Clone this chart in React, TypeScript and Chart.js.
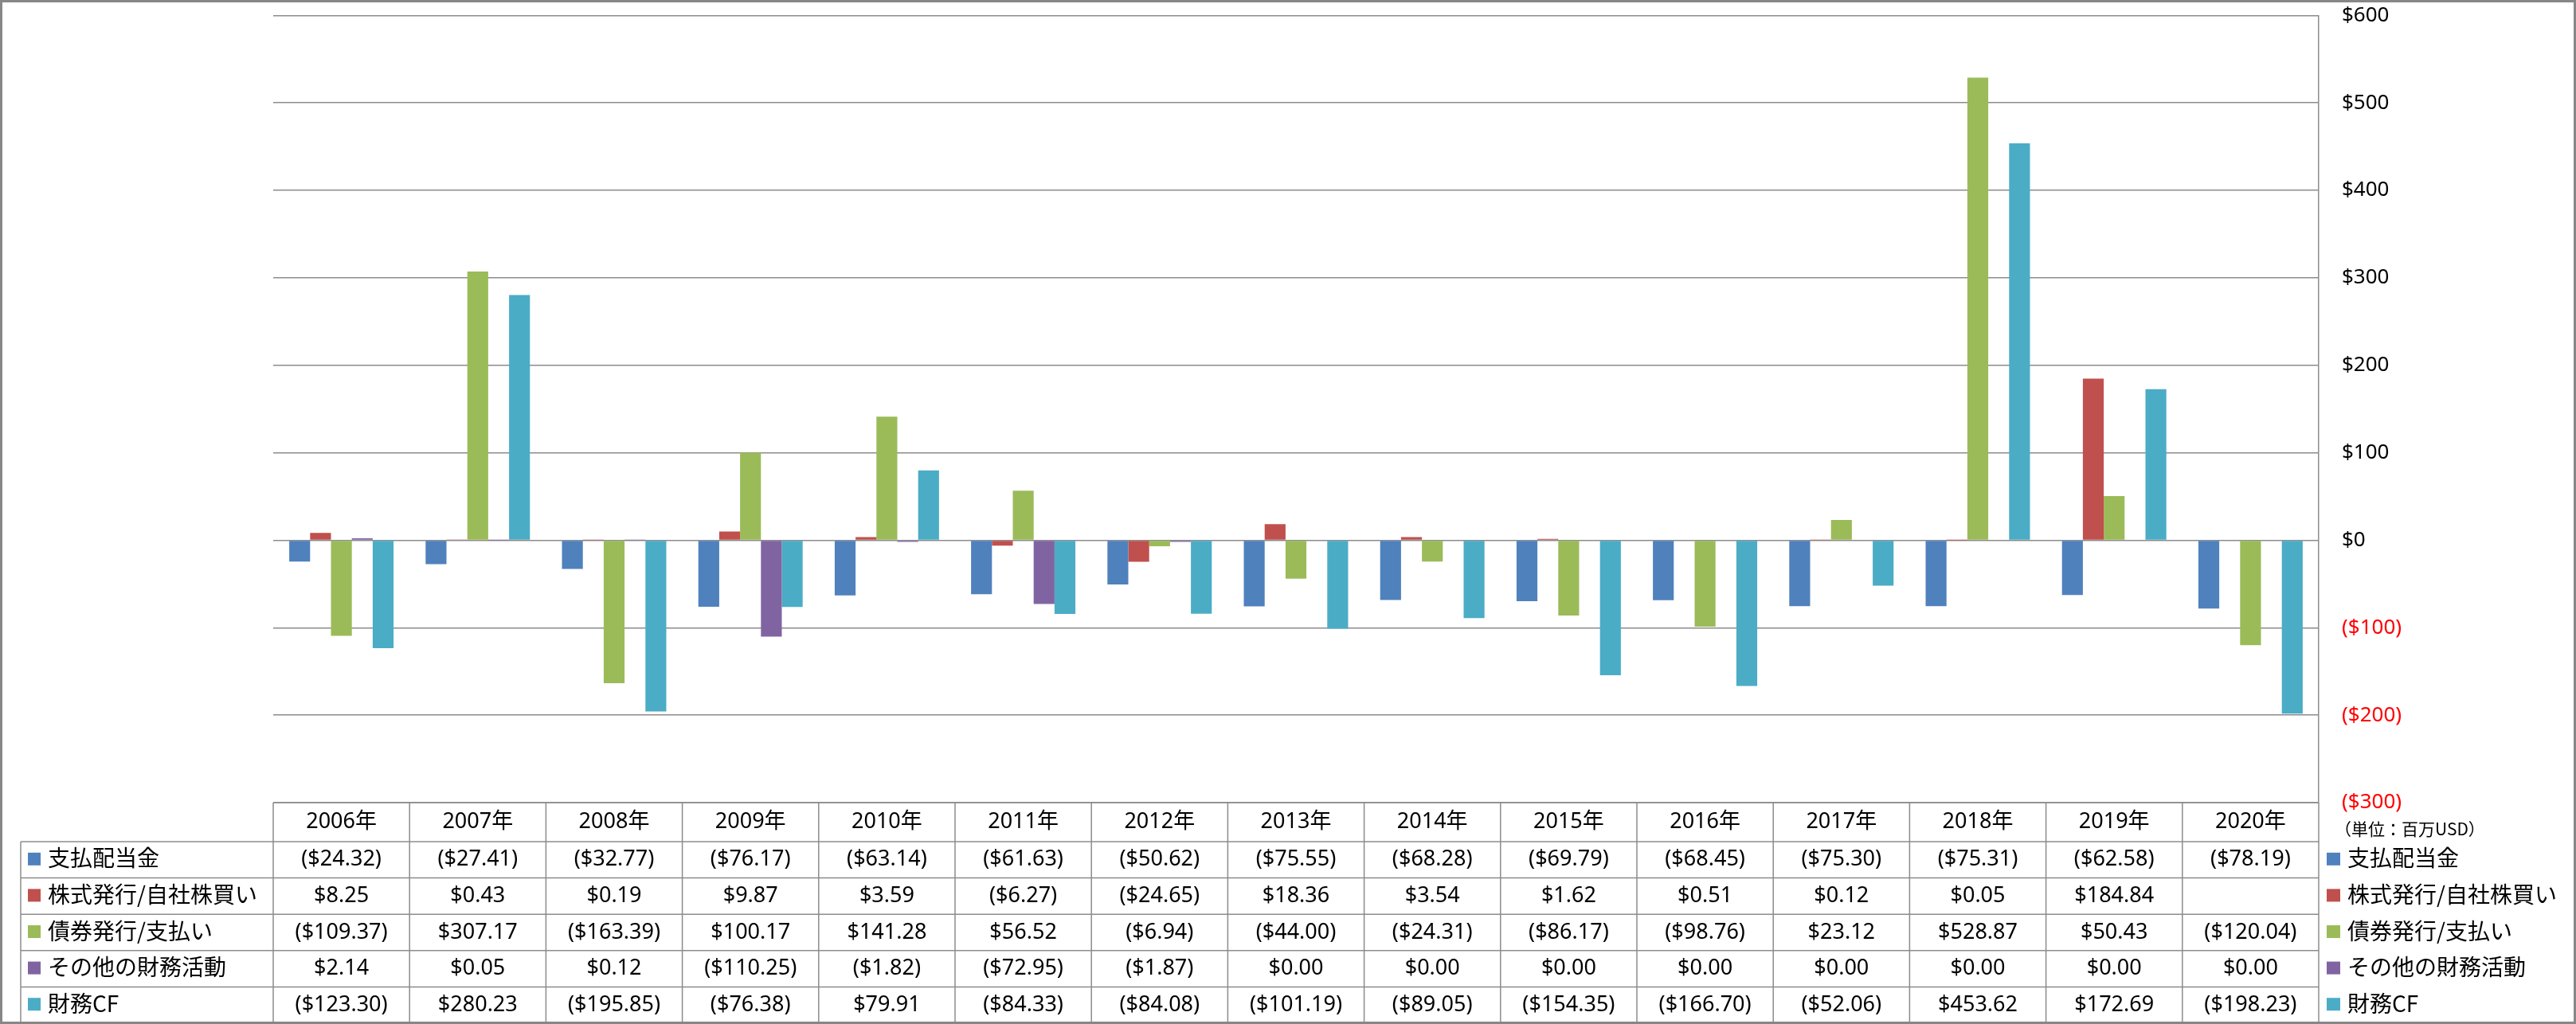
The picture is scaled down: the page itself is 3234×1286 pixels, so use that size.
import React, { useEffect, useRef } from 'react';
import { Chart, registerables } from 'chart.js';

Chart.register(...registerables);

// ---------- data ----------
const years = ['2006年', '2007年', '2008年', '2009年', '2010年', '2011年', '2012年', '2013年', '2014年', '2015年', '2016年', '2017年', '2018年', '2019年', '2020年'];

const seriesNames = ['支払配当金', '株式発行/自社株買い', '債券発行/支払い', 'その他の財務活動', '財務CF'];
const seriesColors = ['#4F81BD', '#C0504D', '#9BBB59', '#8064A2', '#4BACC6'];

const dividends = [-24.32, -27.41, -32.77, -76.17, -63.14, -61.63, -50.62, -75.55, -68.28, -69.79, -68.45, -75.30, -75.31, -62.58, -78.19];
const stockIssue = [8.25, 0.43, 0.19, 9.87, 3.59, -6.27, -24.65, 18.36, 3.54, 1.62, 0.51, 0.12, 0.05, 184.84, null];
const bondIssue = [-109.37, 307.17, -163.39, 100.17, 141.28, 56.52, -6.94, -44.00, -24.31, -86.17, -98.76, 23.12, 528.87, 50.43, -120.04];
const otherFinancing = [2.14, 0.05, 0.12, -110.25, -1.82, -72.95, -1.87, 0, 0, 0, 0, 0, 0, 0, 0];
const financingCF = [-123.30, 280.23, -195.85, -76.38, 79.91, -84.33, -84.08, -101.19, -89.05, -154.35, -166.70, -52.06, 453.62, 172.69, -198.23];

const seriesValues: (number | null)[][] = [dividends, stockIssue, bondIssue, otherFinancing, financingCF];

const axisMin = -300;
const axisMax = 600;
const axisStep = 100;
const unitLabel = '（単位：百万USD）';

// ---------- layout / style ----------
const W = 3234;
const H = 1286;
const GRID = '#8c8c8c';
const NUM_FONT = '"Noto Sans", "Noto Sans CJK JP", sans-serif';
const JP_FONT = '"Noto Sans CJK JP", "Noto Sans", sans-serif';

const fmtValue = (v: number | null) => {
  if (v === null || v === undefined) return '';
  return v < 0 ? `($${Math.abs(v).toFixed(2)})` : `$${v.toFixed(2)}`;
};
const fmtTick = (v: number) => (v < 0 ? `($${Math.abs(v)})` : `$${v}`);

const tablePlugin = {
  id: 'dataTable',
  beforeDraw(chart: any) {
    const ctx = chart.ctx;
    ctx.save();
    ctx.fillStyle = '#ffffff';
    ctx.fillRect(0, 0, chart.width, chart.height);
    ctx.restore();
  },
  afterDraw(chart: any) {
    const ctx: CanvasRenderingContext2D = chart.ctx;
    const area = chart.chartArea;
    const xs = chart.scales.x;
    const n = years.length;
    const catW = (area.right - area.left) / n;
    const top = area.bottom;
    const headerH = 49;
    const bottom = H - 1;
    const rowH = (bottom - (top + headerH)) / seriesNames.length;
    const labelLeft = 26;

    const line = (x1: number, y1: number, x2: number, y2: number) => {
      ctx.beginPath();
      ctx.moveTo(x1, y1);
      ctx.lineTo(x2, y2);
      ctx.stroke();
    };

    ctx.save();
    ctx.strokeStyle = GRID;
    ctx.lineWidth = 1.5;
    line(area.left, top, area.right, top);
    for (let r = 0; r <= seriesNames.length; r++) {
      const y = top + headerH + r * rowH;
      line(labelLeft, y, area.right, y);
    }
    for (let i = 0; i <= n; i++) {
      const x = area.left + i * catW;
      line(x, top, x, bottom);
    }
    line(labelLeft, top + headerH, labelLeft, bottom);

    // header
    ctx.fillStyle = '#000';
    ctx.textAlign = 'center';
    ctx.textBaseline = 'middle';
    ctx.font = `27px ${NUM_FONT}`;
    years.forEach((yr, i) => ctx.fillText(yr, xs.getPixelForValue(i), top + headerH / 2));

    // rows
    seriesNames.forEach((name, r) => {
      const cy = top + headerH + (r + 0.5) * rowH;
      ctx.fillStyle = '#000';
      ctx.textAlign = 'center';
      ctx.font = `27px ${NUM_FONT}`;
      seriesValues[r].forEach((v, i) => ctx.fillText(fmtValue(v), xs.getPixelForValue(i), cy));

      // left legend key
      ctx.fillStyle = seriesColors[r];
      ctx.fillRect(35, cy - 9, 16, 16);
      ctx.fillStyle = '#000';
      ctx.textAlign = 'left';
      ctx.font = `28px ${JP_FONT}`;
      ctx.fillText(name, 60, cy - 2);

      // right legend
      ctx.fillStyle = seriesColors[r];
      ctx.fillRect(area.right + 10, cy - 9, 17, 16);
      ctx.fillStyle = '#000';
      ctx.fillText(name, area.right + 36, cy - 2);
    });

    // unit label
    ctx.font = `21px ${JP_FONT}`;
    ctx.textAlign = 'left';
    ctx.fillStyle = '#000';
    ctx.fillText(unitLabel, area.right + 20, top + 33);

    // outer border
    ctx.strokeStyle = '#878787';
    ctx.lineWidth = 3;
    ctx.strokeRect(1.5, 1.5, W - 3, H - 3);
    ctx.restore();
  },
};

export default function App() {
  const ref = useRef<HTMLCanvasElement | null>(null);

  useEffect(() => {
    if (!ref.current) return;
    const chart = new Chart(ref.current, {
      type: 'bar',
      data: {
        labels: years,
        datasets: seriesNames.map((name, i) => ({
          label: name,
          data: seriesValues[i],
          backgroundColor: seriesColors[i],
          borderWidth: 0,
          barPercentage: 1,
          categoryPercentage: 0.765,
        })),
      },
      options: {
        responsive: false,
        animation: false,
        devicePixelRatio: 1,
        layout: { padding: { left: 343, top: 19.3, right: 0, bottom: 278 } },
        plugins: {
          legend: { display: false },
          tooltip: { enabled: false },
          title: { display: false },
        },
        scales: {
          x: { display: false, offset: true },
          y: {
            position: 'right',
            min: axisMin,
            max: axisMax,
            ticks: {
              stepSize: axisStep,
              padding: 0,
              color: (c: any) => (c.tick && c.tick.value < 0 ? '#FF0000' : '#000000'),
              font: { family: NUM_FONT, size: 26 },
              callback: (v: any) => fmtTick(Number(v)),
            },
            grid: { color: GRID, lineWidth: 1.5, drawTicks: true, tickLength: 29, tickColor: 'rgba(0,0,0,0)' },
            border: { display: true, color: GRID, width: 1.5 },
            afterFit: (s: any) => {
              s.width = 323;
            },
          },
        },
      },
      plugins: [tablePlugin],
    } as any);
    return () => chart.destroy();
  }, []);

  return (
    <div style={{ position: 'absolute', left: 0, top: 0, width: W, height: H }}>
      <canvas ref={ref} width={W} height={H} style={{ display: 'block' }} />
    </div>
  );
}
